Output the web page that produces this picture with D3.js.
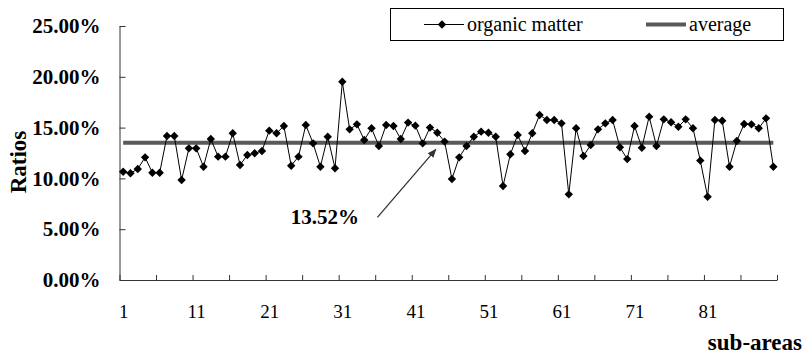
<!DOCTYPE html>
<html>
<head>
<meta charset="utf-8">
<script src="https://cdn.jsdelivr.net/npm/d3@7"></script>
<style>
  html, body { margin: 0; padding: 0; background: #fff; }
  svg { display: block; }
  svg text { font-family: "Liberation Serif", "Times New Roman", Times, serif !important; }
</style>
</head>
<body>
<svg id="chart" width="806" height="356"></svg>
<script>
// ---- data ----
const subAreas = d3.range(1, 91);
const organicMatter = [
  10.66,10.5,10.93,12.07,10.56,10.56,14.17,14.17,9.84,12.96,
  12.96,11.15,13.88,12.14,12.14,14.44,11.32,12.3,12.47,12.7,
  14.7,14.44,15.16,11.25,12.14,15.26,13.45,11.15,14.1,11.0,
  19.52,14.83,15.32,13.78,14.93,13.19,15.26,15.16,13.88,15.49,
  15.19,13.45,15.0,14.5,13.62,9.94,12.07,13.19,14.1,14.6,
  14.5,14.1,9.25,12.37,14.27,12.7,14.44,16.24,15.75,15.75,
  15.42,8.43,14.93,12.2,13.29,14.83,15.42,15.75,13.06,11.9,
  15.16,13.02,16.08,13.19,15.81,15.52,15.09,15.81,14.93,11.75,
  8.2,15.75,15.68,11.15,13.68,15.35,15.32,14.93,15.91,11.15
];
const averageValue = 13.52;
const yTicks = [0, 5, 10, 15, 20, 25];
const xLabelTicks = [1, 11, 21, 31, 41, 51, 61, 71, 81];
const xTickBoundaries = d3.range(0, 19).map(k => 0.5 + k * 5);
const legendLabels = ["organic matter", "average"];
const annotationText = "13.52%";

// ---- layout ----
const svg = d3.select("#chart");
const plotL = 119.5, plotR = 777, plotT = 26, plotB = 280;
const x = d3.scaleLinear().domain([0.5, 90.5]).range([plotL, plotR]);
const y = d3.scaleLinear().domain([0, 25]).range([plotB, plotT]);
const axisColor = "#333";

// y axis
const yAxis = svg.append("g").attr("transform", `translate(${plotL},0)`)
  .call(d3.axisLeft(y).tickValues(yTicks).tickFormat(d => d3.format(".2f")(d) + "%")
    .tickSizeInner(-6).tickSizeOuter(0).tickPadding(19));
yAxis.select(".domain").attr("stroke", axisColor);
yAxis.selectAll(".tick line").attr("stroke", axisColor);
yAxis.selectAll("text").attr("font-size", 21)
  .attr("font-weight", "bold").attr("fill", "#000");

// x axis (tick marks at category boundaries)
const xAxis = svg.append("g").attr("transform", `translate(0,${plotB})`)
  .call(d3.axisBottom(x).tickValues(xTickBoundaries).tickFormat("")
    .tickSizeInner(-5).tickSizeOuter(0));
xAxis.select(".domain").attr("stroke", axisColor);
xAxis.selectAll(".tick line").attr("stroke", axisColor);

// x labels
const xLab = svg.append("g").attr("transform", `translate(0,${plotB})`)
  .call(d3.axisBottom(x).tickValues(xLabelTicks).tickFormat(d3.format("d"))
    .tickSize(0).tickPadding(25));
xLab.select(".domain").remove();
xLab.selectAll("text").attr("font-size", 19).attr("fill", "#000");

// axis titles
svg.append("text").attr("transform", "translate(26,162) rotate(-90)")
  .attr("text-anchor", "middle").attr("font-size", 23)
  .attr("font-weight", "bold").text("Ratios");
svg.append("text").attr("x", 802).attr("y", 350).attr("text-anchor", "end")
  .attr("font-size", 23).attr("font-weight", "bold").text("sub-areas");

// average line
svg.append("line")
  .attr("x1", x(subAreas[0])).attr("x2", x(subAreas[subAreas.length - 1]))
  .attr("y1", y(averageValue)).attr("y2", y(averageValue))
  .attr("stroke", "#595959").attr("stroke-width", 4);

// organic matter line
const data = subAreas.map((s, i) => ({ s, v: organicMatter[i] }));
svg.append("path").datum(data)
  .attr("d", d3.line().x(d => x(d.s)).y(d => y(d.v)))
  .attr("fill", "none").attr("stroke", "#000").attr("stroke-width", 1);

const diamond = "M0,-4.2L4.2,0L0,4.2L-4.2,0Z";
svg.append("g").selectAll("path").data(data).join("path")
  .attr("d", diamond).attr("transform", d => `translate(${x(d.s)},${y(d.v)})`)
  .attr("fill", "#000");

// annotation
svg.append("defs").append("marker").attr("id", "arrow")
  .attr("viewBox", "0 0 10 10").attr("refX", 9).attr("refY", 5)
  .attr("markerWidth", 7).attr("markerHeight", 7).attr("orient", "auto")
  .append("path").attr("d", "M0,1L10,5L0,9Z").attr("fill", "#333");
svg.append("line")
  .attr("x1", x(35.8)).attr("y1", y(6.17)).attr("x2", x(43.8)).attr("y2", y(12.86))
  .attr("stroke", "#333").attr("stroke-width", 1.3).attr("marker-end", "url(#arrow)");
svg.append("text").attr("x", x(33.3)).attr("y", y(5.5)).attr("text-anchor", "end")
  .attr("font-size", 21).attr("font-weight", "bold")
  .text(annotationText);

// legend
const lg = svg.append("g");
lg.append("rect").attr("x", 390.5).attr("y", 8.5).attr("width", 393).attr("height", 32)
  .attr("fill", "#fff").attr("stroke", "#000").attr("stroke-width", 1);
lg.append("line").attr("x1", 424).attr("x2", 464).attr("y1", 24.5).attr("y2", 24.5)
  .attr("stroke", "#000").attr("stroke-width", 1);
lg.append("path").attr("d", diamond).attr("transform", "translate(442,24.5)").attr("fill", "#000");
lg.append("text").attr("x", 467).attr("y", 31).attr("font-size", 20)
  .text(legendLabels[0]);
lg.append("line").attr("x1", 646).attr("x2", 686).attr("y1", 24.5).attr("y2", 24.5)
  .attr("stroke", "#595959").attr("stroke-width", 4);
lg.append("text").attr("x", 689).attr("y", 31).attr("font-size", 20)
  .text(legendLabels[1]);
</script>
</body>
</html>
